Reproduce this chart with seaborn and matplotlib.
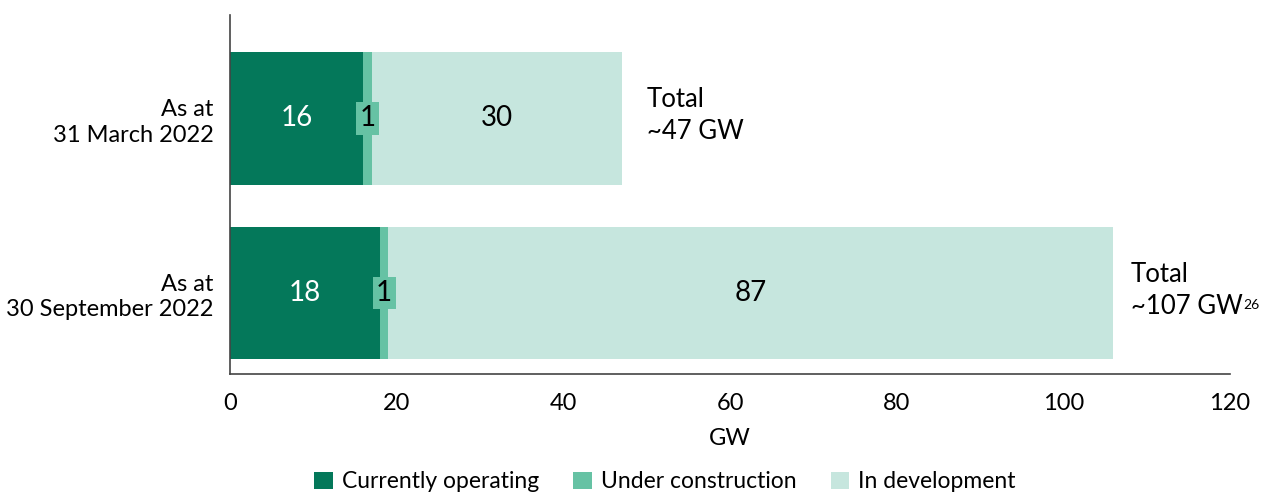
import matplotlib
matplotlib.use("Agg")
import matplotlib.pyplot as plt
import seaborn as sns
import pandas as pd
import numpy as np
from matplotlib.patches import Patch

categories = ["As at\n31 March 2022", "As at\n30 September 2022"]
operating = [16, 18]
construction = [1, 1]
development = [30, 87]
total_line1 = ["Total", "Total"]
total_line2 = ["~47 GW", "~107 GW"]
total_notes = ["", "26"]
series_names = ["Currently operating", "Under construction", "In development"]
colors = ["#04785A", "#66C2A4", "#C6E6DE"]

sns.set_theme(style="white")
FONT = "Lato"
plt.rcParams["font.family"] = [FONT, "DejaVu Sans"]
plt.rcParams["text.color"] = "black"
plt.rcParams["axes.labelcolor"] = "black"

df = pd.DataFrame({"cat": categories, "op": operating, "uc": construction, "dev": development})
df["c1"] = df["op"]
df["c2"] = df["op"] + df["uc"]
df["c3"] = df["c2"] + df["dev"]

fig = plt.figure(figsize=(12.61, 4.96), dpi=100)
ax = fig.add_axes([230 / 1261, 1 - 374 / 496, 1000 / 1261, 359 / 496])

w = 0.76
sns.barplot(data=df, x="c3", y="cat", color=colors[2], width=w, saturation=1, ax=ax, orient="h")
sns.barplot(data=df, x="c2", y="cat", color=colors[1], width=w, saturation=1, ax=ax, orient="h")
sns.barplot(data=df, x="c1", y="cat", color=colors[0], width=w, saturation=1, ax=ax, orient="h")
for p in ax.patches:
    p.set_edgecolor("none")

ax.set_xlim(0, 120)
ax.set_ylim(1.463, -0.591)
ax.set_xticks([0, 20, 40, 60, 80, 100, 120])
ax.tick_params(axis="x", length=0, pad=14, labelsize=17, colors="black")
ax.tick_params(axis="y", length=0, pad=12, labelsize=17, colors="black")
for lab in ax.get_yticklabels():
    lab.set_horizontalalignment("right")
    lab.set_multialignment("right")
    lab.set_linespacing(1.25)
ax.set_xlabel("GW", fontsize=17, labelpad=10, color="black")
ax.set_ylabel("")
for s in ["top", "right"]:
    ax.spines[s].set_visible(False)
for s in ["left", "bottom"]:
    ax.spines[s].set_color("#444444")
    ax.spines[s].set_linewidth(1.2)

for i in range(len(categories)):
    o, u, d = operating[i], construction[i], development[i]
    ax.text(o / 2, i, str(o), ha="center", va="center", color="white", fontsize=20)
    ax.text(o + u / 2, i, str(u), ha="center", va="center", color="black", fontsize=20,
            bbox=dict(boxstyle="square,pad=0.12", fc=colors[1], ec="none"))
    ax.text(o + u + d / 2, i, str(d), ha="center", va="center", color="black", fontsize=20)

total_x = [50, 108.1]
for i in range(len(categories)):
    ax.text(total_x[i], i - 0.106, total_line1[i], ha="left", va="center", fontsize=18.5)
    t2 = ax.text(total_x[i], i + 0.077, total_line2[i], ha="left", va="center", fontsize=18.5)
    if total_notes[i]:
        ax.annotate(total_notes[i], xy=(1, 0.8), xycoords=t2, xytext=(0.5, 0),
                    textcoords="offset points", ha="left", va="top", fontsize=10)

handles = [Patch(facecolor=c, edgecolor="none") for c in colors]
leg = fig.legend(handles, series_names, loc="center", bbox_to_anchor=(665 / 1261, 1 - 482 / 496),
                 ncol=3, frameon=False, fontsize=16.5, handlelength=0.8, handleheight=0.8,
                 handletextpad=0.4, columnspacing=1.5)
for t in leg.get_texts():
    t.set_color("black")

fig.savefig("out.png", dpi=100)
